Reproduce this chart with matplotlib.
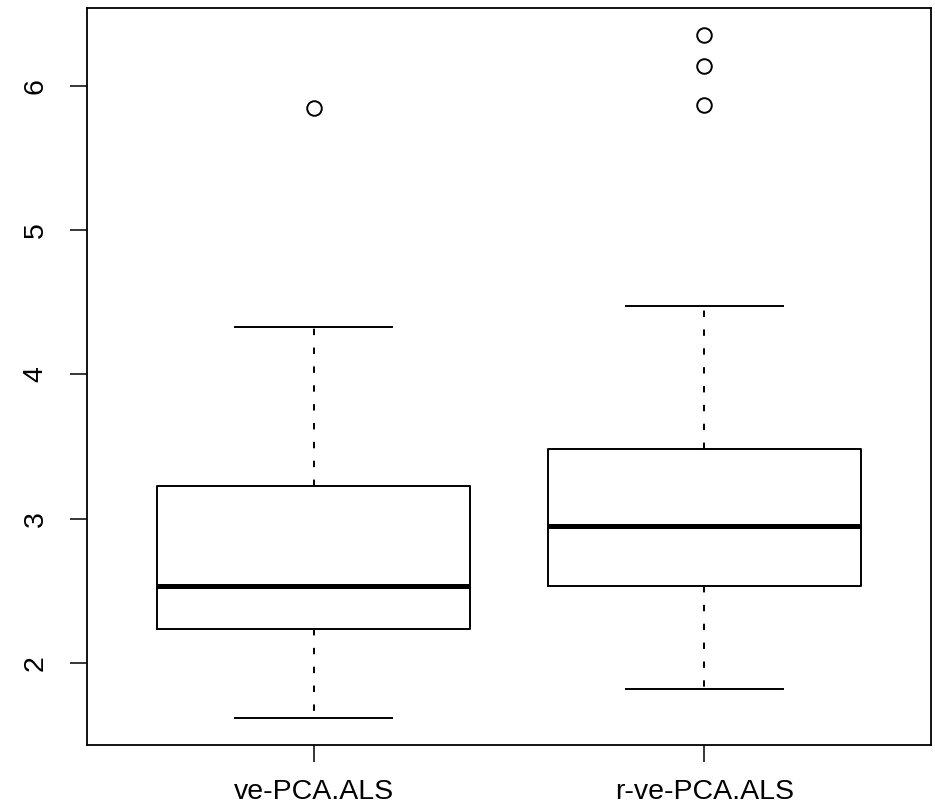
import numpy as np
import matplotlib.pyplot as plt

plt.rcParams['font.family'] = ['Liberation Sans', 'DejaVu Sans']

# five-number summaries per method, plus outliers
labels = ["ve-PCA.ALS", "r-ve-PCA.ALS"]
whislo = [1.618, 1.819]
q1 = [2.236, 2.535]
med = [2.535, 2.951]
q3 = [3.229, 3.486]
whishi = [4.333, 4.472]
fliers = [[5.847], [6.354, 6.139, 5.868]]

stats = []
for i in range(len(labels)):
    stats.append(dict(label=labels[i], whislo=whislo[i], q1=q1[i], med=med[i],
                      q3=q3[i], whishi=whishi[i], fliers=fliers[i]))

fig = plt.figure(figsize=(9.35, 8.06), dpi=100)
ax = fig.add_axes([87/935, (806-745)/806, 844/935, 737/806])

lw = 1.4
ax.bxp(stats, positions=[1, 2], widths=0.8,
       boxprops=dict(color='black', linewidth=lw),
       medianprops=dict(color='black', linewidth=3.6, solid_capstyle='butt'),
       whiskerprops=dict(color='black', linewidth=lw, linestyle=(0, (3.3, 6.4))),
       capprops=dict(color='black', linewidth=lw),
       capwidths=0.4,
       flierprops=dict(marker='o', markersize=10.5, markerfacecolor='none',
                       markeredgecolor='black', markeredgewidth=1.4))

# R-style 4% padding around the data range
lo = min(whislo)
hi = max(max(f) for f in fliers)
pad = 0.04 * (hi - lo)
ax.set_ylim(lo - pad, hi + pad)
ax.set_xlim(0.42, 2.58)

ax.set_yticks([2, 3, 4, 5, 6])
ax.set_yticklabels(['2', '3', '4', '5', '6'], rotation=90, va='center')
ax.set_xticks([1, 2])
ax.set_xticklabels(labels)
ax.tick_params(axis='y', length=12.5, width=1.1, labelsize=20.5, pad=15)
ax.tick_params(axis='x', length=12.5, width=1.1, labelsize=20.5, pad=12)
for s in ax.spines.values():
    s.set_linewidth(1.3)

fig.savefig("out.png", dpi=100)
